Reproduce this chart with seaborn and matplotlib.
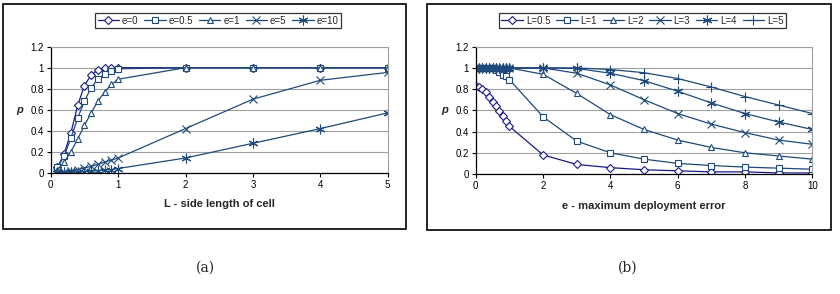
import matplotlib
matplotlib.use("Agg")
import matplotlib.pyplot as plt
import seaborn as sns
from matplotlib.patches import Rectangle
from matplotlib.ticker import FuncFormatter

# panel (a): p against L for several e
L_x = [0.1, 0.2, 0.3, 0.4, 0.5, 0.6, 0.7, 0.8, 0.9, 1.0, 2, 3, 4, 5]
e_labels = ["e=0", "e=0.5", "e=1", "e=5", "e=10"]
p_e0 = [0.05, 0.18, 0.38, 0.64, 0.83, 0.93, 0.98, 1.0, 1.0, 1.0, 1.0, 1.0, 1.0, 1.0]
p_e05 = [0.05, 0.16, 0.33, 0.52, 0.68, 0.81, 0.89, 0.94, 0.97, 0.99, 1.0, 1.0, 1.0, 1.0]
p_e1 = [0.03, 0.10, 0.20, 0.32, 0.45, 0.57, 0.68, 0.77, 0.84, 0.89, 1.0, 1.0, 1.0, 1.0]
p_e5 = [0.005, 0.01, 0.02, 0.03, 0.045, 0.06, 0.08, 0.10, 0.12, 0.14, 0.42, 0.70, 0.88, 0.955]
p_e10 = [0.0, 0.002, 0.004, 0.007, 0.01, 0.015, 0.02, 0.025, 0.03, 0.04, 0.14, 0.28, 0.42, 0.57]

# panel (b): p against e for several L
e_x = [0, 0.1, 0.2, 0.3, 0.4, 0.5, 0.6, 0.7, 0.8, 0.9, 1.0, 2, 3, 4, 5, 6, 7, 8, 9, 10]
L_labels = ["L=0.5", "L=1", "L=2", "L=3", "L=4", "L=5"]
p_L05 = [0.83, 0.82, 0.80, 0.77, 0.73, 0.68, 0.64, 0.59, 0.55, 0.50, 0.45,
         0.18, 0.09, 0.06, 0.04, 0.03, 0.02, 0.02, 0.01, 0.01]
p_L1 = [1.0, 1.0, 1.0, 1.0, 1.0, 1.0, 0.98, 0.96, 0.93, 0.92, 0.89,
        0.54, 0.31, 0.20, 0.14, 0.10, 0.08, 0.065, 0.055, 0.045]
p_L2 = [1.0] * 11 + [0.94, 0.76, 0.56, 0.42, 0.32, 0.25, 0.20, 0.17, 0.14]
p_L3 = [1.0] * 11 + [1.0, 0.95, 0.84, 0.70, 0.57, 0.47, 0.39, 0.32, 0.28]
p_L4 = [1.0] * 11 + [1.0, 0.995, 0.95, 0.88, 0.78, 0.67, 0.57, 0.49, 0.42]
p_L5 = [1.0] * 11 + [1.0, 1.0, 0.985, 0.955, 0.90, 0.82, 0.73, 0.65, 0.57]

navy = "#1a1a88"
blue = "#1d4a7a"
colors_a = [navy, blue, blue, blue, blue]
colors_b = [navy, blue, blue, blue, blue, blue]
markers_a = ["D", "s", "^", "x", (6, 2, 0)]
markers_b = ["D", "s", "^", "x", (6, 2, 0), "+"]
sizes = {"D": 4, "s": 5, "^": 5, "x": 5.5, "+": 7}

sns.set_style("white")
plt.rcParams["font.family"] = ["Liberation Sans", "DejaVu Sans"]

fig = plt.figure(figsize=(8.4, 2.94), dpi=100)
W, H = 840, 294


def px_axes(x0, x1, ytop, ybot):
    return fig.add_axes([x0 / W, 1 - ybot / H, (x1 - x0) / W, (ybot - ytop) / H])


def frame(x0, x1, y0, y1):
    fig.patches.append(Rectangle((x0 / W, 1 - y1 / H), (x1 - x0) / W, (y1 - y0) / H,
                                 transform=fig.transFigure, fill=False,
                                 edgecolor="black", linewidth=1.2))


def style_axes(ax, xmax, xticks, xlabel):
    ax.set_xlim(0, xmax)
    ax.set_ylim(0, 1.2)
    ax.set_xticks(xticks)
    ax.set_yticks([0, 0.2, 0.4, 0.6, 0.8, 1.0, 1.2])
    ax.yaxis.set_major_formatter(FuncFormatter(lambda v, _: f"{v:g}"))
    ax.grid(axis="y", color="#a0a0a0", linewidth=0.8)
    ax.grid(axis="x", visible=False)
    for s in ["top", "right"]:
        ax.spines[s].set_color("#a0a0a0")
        ax.spines[s].set_linewidth(0.8)
    for s in ["left", "bottom"]:
        ax.spines[s].set_color("black")
        ax.spines[s].set_linewidth(0.9)
    ax.tick_params(axis="both", direction="out", length=3, width=0.8,
                   labelsize=7, colors="black", pad=2, bottom=True, left=True)
    ax.set_xlabel(xlabel, fontsize=8, fontweight="bold", labelpad=7)
    ax.set_ylabel("p", fontsize=8, fontweight="bold", style="italic",
                  rotation=0, labelpad=8, va="center")


def draw(ax, xs, series, labels, colors, markers):
    for ys, lab, c, m in zip(series, labels, colors, markers):
        ms = sizes.get(m, 7) if isinstance(m, str) else 7
        sns.lineplot(x=xs, y=ys, ax=ax, color=c, marker=m, markersize=ms,
                     markerfacecolor="white", markeredgecolor=c,
                     markeredgewidth=0.8, linewidth=0.9, label=lab, legend=False)
    return ax.get_lines()


ax_a = px_axes(50.7, 387.7, 46.7, 172.7)
lines_a = draw(ax_a, L_x, [p_e0, p_e05, p_e1, p_e5, p_e10], e_labels, colors_a, markers_a)
style_axes(ax_a, 5, [0, 1, 2, 3, 4, 5], "L - side length of cell")

ax_b = px_axes(475.7, 812.3, 46.7, 174)
lines_b = draw(ax_b, e_x, [p_L05, p_L1, p_L2, p_L3, p_L4, p_L5], L_labels, colors_b, markers_b)
style_axes(ax_b, 10, [0, 2, 4, 6, 8, 10], "e - maximum deployment error")

for lines, labels, cx in [(lines_a, e_labels, 218), (lines_b, L_labels, 642.5)]:
    leg = fig.legend(lines, labels, loc="center", bbox_to_anchor=(cx / W, 1 - 20.5 / H),
                     ncol=len(labels), fontsize=7, frameon=True, fancybox=False,
                     handlelength=2.2, handletextpad=0.3, columnspacing=0.6,
                     borderpad=0.25, borderaxespad=0)
    leg.get_frame().set_edgecolor("black")
    leg.get_frame().set_linewidth(0.9)

frame(3, 406, 4, 229)
frame(427, 831, 4, 230)

fig.text(205 / W, 1 - 268 / H, "(a)", ha="center", va="center", fontsize=10,
         family=["DejaVu Serif"])
fig.text(628 / W, 1 - 268 / H, "(b)", ha="center", va="center", fontsize=10,
         family=["DejaVu Serif"])

fig.savefig("out.png", dpi=100)
